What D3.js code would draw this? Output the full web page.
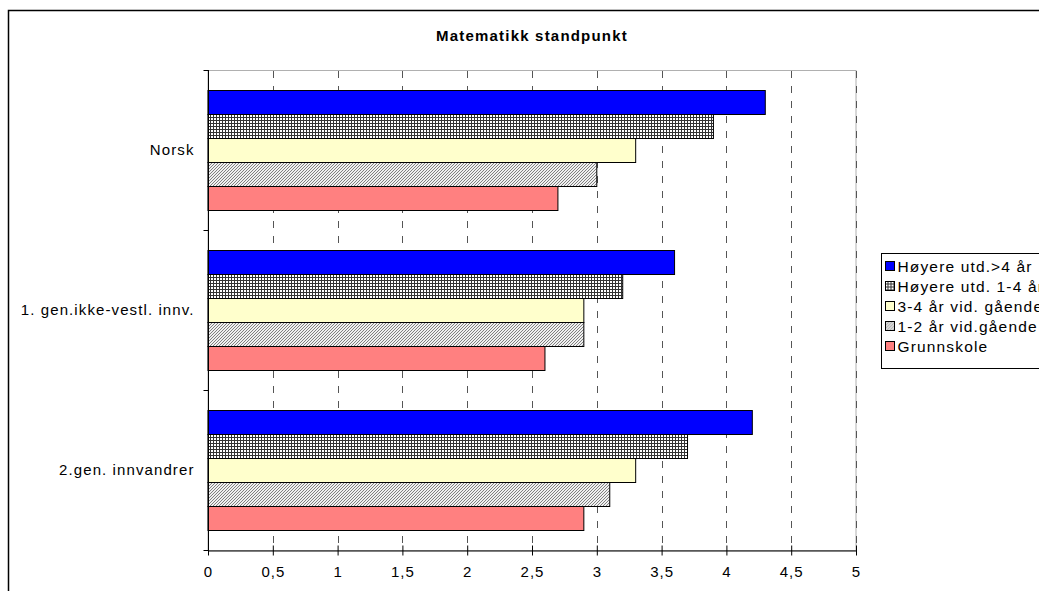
<!DOCTYPE html>
<html><head><meta charset="utf-8">
<script src="https://cdn.jsdelivr.net/npm/d3@7"></script>
<style>body{margin:0;background:#fff}svg{display:block;font-family:"Liberation Sans",Arial,sans-serif}</style>
</head><body><svg id="c" width="1039" height="591"></svg>
<script>
const categories = ["Norsk", "1. gen.ikke-vestl. innv.", "2.gen. innvandrer"];
const seriesNames = ["Høyere utd.>4 år", "Høyere utd. 1-4 år", "3-4 år vid. gående", "1-2 år vid.gående", "Grunnskole"];
const hoyere4 = [4.3, 3.6, 4.2];
const hoyere14 = [3.9, 3.2, 3.7];
const vid34 = [3.3, 2.9, 3.3];
const vid12 = [3.0, 2.9, 3.1];
const grunnskole = [2.7, 2.6, 2.9];
const xTicks = [0, 0.5, 1, 1.5, 2, 2.5, 3, 3.5, 4, 4.5, 5];
const title = "Matematikk standpunkt";

const seriesValues = [hoyere4, hoyere14, vid34, vid12, grunnskole];
const fills = ["#0000ff", "url(#grid)", "#ffffcc", "url(#hatch)", "#ff8080"];

const svg = d3.select("#c");
const defs = svg.append("defs");
const g1 = defs.append("pattern").attr("id","grid").attr("patternUnits","userSpaceOnUse").attr("width",3).attr("height",3);
g1.append("rect").attr("width",3).attr("height",3).attr("fill","#fff");
g1.append("rect").attr("width",3).attr("height",1).attr("fill","#333");
g1.append("rect").attr("width",1).attr("height",3).attr("fill","#333");
const h1 = defs.append("pattern").attr("id","hatch").attr("patternUnits","userSpaceOnUse").attr("width",3).attr("height",3);
h1.append("rect").attr("width",3).attr("height",3).attr("fill","#f0f0f0");
h1.append("path").attr("d","M0,3L3,0M-1,1L1,-1M2,4L4,2").attr("stroke","#808080").attr("stroke-width",1);

// outer border
svg.append("rect").attr("x",8.5).attr("y",10.5).attr("width",1100).attr("height",700)
  .attr("fill","none").attr("stroke","#000").attr("stroke-width",1.5);

const x = d3.scaleLinear().domain([0,5]).range([208,856]);
const y = d3.scaleBand().domain(categories).range([70,550]).paddingInner(0.25).paddingOuter(0.125);
const yi = d3.scaleBand().domain(d3.range(seriesNames.length)).range([0,y.bandwidth()]);

// plot area border
svg.append("rect").attr("x",208).attr("y",70.5).attr("width",648).attr("height",480)
  .attr("fill","none").attr("stroke","#b0b0b0").attr("stroke-width",1);

// gridlines
svg.append("g").selectAll("line").data(xTicks.slice(1)).join("line")
  .attr("x1",d=>Math.round(x(d))+0.5).attr("x2",d=>Math.round(x(d))+0.5)
  .attr("y1",71).attr("y2",550)
  .attr("stroke","#555").attr("stroke-dasharray","7,8");

// bars
const groups = svg.append("g").selectAll("g").data(categories).join("g")
  .attr("transform",c=>`translate(0,${y(c)})`);
groups.selectAll("rect").data((c,ci)=>seriesValues.map((s,si)=>({si,v:s[ci]}))).join("rect")
  .attr("x",x(0)).attr("y",d=>yi(d.si)+0.5)
  .attr("width",d=>x(d.v)-x(0)).attr("height",yi.bandwidth())
  .attr("fill",d=>fills[d.si]).attr("stroke","#000").attr("stroke-width",1);

const FS = 15, LS = 1;
// x axis
const xa = svg.append("g").attr("transform","translate(0,550.5)")
  .call(d3.axisBottom(x).tickValues(xTicks).tickFormat(d=>String(d).replace(".",",")).tickSizeInner(5).tickSizeOuter(0).tickPadding(11));
xa.select(".domain").attr("stroke","#000");
xa.selectAll(".tick line").attr("y1",-5).attr("y2",5).attr("stroke","#000");
xa.selectAll("text").attr("font-size",FS).attr("letter-spacing",LS).attr("fill","#000").attr("font-family","Liberation Sans, Arial, sans-serif");

// y axis
const ya = svg.append("g").attr("transform","translate(208.5,0)");
ya.append("line").attr("x1",0).attr("x2",0).attr("y1",70).attr("y2",550).attr("stroke","#000");
const bounds = [70, ...categories.map(c=>y(c)+y.bandwidth()+y.step()*0.125)];
ya.selectAll("line.t").data(bounds).join("line").attr("class","t")
  .attr("x1",-5).attr("x2",0).attr("y1",d=>Math.round(d)+0.5).attr("y2",d=>Math.round(d)+0.5).attr("stroke","#000");
ya.selectAll("text").data(categories).join("text")
  .attr("x",-14).attr("y",c=>y(c)+y.bandwidth()/2).attr("dy","0.35em")
  .attr("text-anchor","end").attr("font-size",FS).attr("letter-spacing",1.1).text(c=>c);

// title
svg.append("text").attr("x",532).attr("y",41).attr("text-anchor","middle")
  .attr("font-size",15).attr("font-weight","bold").attr("letter-spacing",1.2).text(title);

// legend
const lg = svg.append("g").attr("transform","translate(881.5,253.5)");
lg.append("rect").attr("width",200).attr("height",115).attr("fill","#fff").attr("stroke","#000");
const li = lg.selectAll("g").data(seriesNames).join("g").attr("transform",(d,i)=>`translate(0,${13+i*20})`);
li.append("rect").attr("x",4).attr("y",-5).attr("width",9).attr("height",9)
  .attr("fill",(d,i)=>fills[i]).attr("stroke","#000");
li.append("text").attr("x",16).attr("y",0).attr("dy","0.35em").attr("font-size",15.5).attr("letter-spacing",1.15).text(d=>d);
</script></body></html>
